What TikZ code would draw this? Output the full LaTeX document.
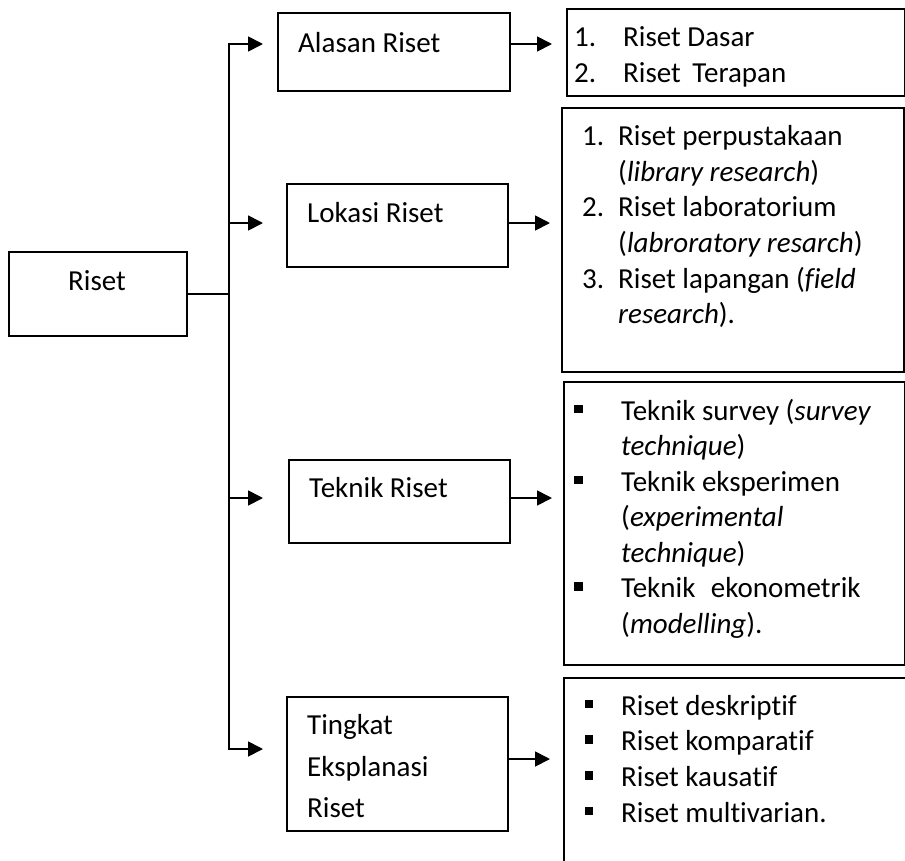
\documentclass[tikz,border=0pt]{standalone}
\usepackage{fontspec}
\setmainfont{Carlito}[Ligatures={NoCommon}]
\usetikzlibrary{arrows.meta}
\begin{document}
\begin{tikzpicture}[x=1pt,y=-1pt,
  box/.style={draw, line width=1.8pt, inner sep=0pt, anchor=north west},
  txt/.style={anchor=base west, inner sep=0pt, font=\fontsize{29}{35}\selectfont},
  link/.style={line width=1.8pt, line cap=rect},
  arr/.style={line width=1.8pt, line cap=rect, -{Triangle[length=15pt,width=15pt]}},
  bul/.style={fill, inner sep=0pt, minimum size=8.5pt, anchor=center}]
\useasboundingbox (0,0) rectangle (905,860);

% boxes
\node[box, minimum width=178pt, minimum height=84pt] (riset) at (8,251) {};
\node[box, minimum width=232pt, minimum height=78pt] (alasan) at (277,12) {};
\node[box, minimum width=221pt, minimum height=83pt] (lokasi) at (286,183) {};
\node[box, minimum width=221pt, minimum height=83pt] (teknik) at (288,459) {};
\node[box, minimum width=221pt, minimum height=134pt] (tingkat) at (286,696) {};
\node[box, minimum width=338pt, minimum height=87pt] (l1) at (566,8) {};
\node[box, minimum width=342pt, minimum height=264pt] (l2) at (561,107) {};
\node[box, minimum width=341pt, minimum height=283pt] (l3) at (563,381) {};
\node[box, minimum width=345pt, minimum height=200pt] (l4) at (563,677) {};

% junction coordinates
\coordinate (tTop) at (229,44);
\coordinate (tLok) at (229,223);
\coordinate (tTek) at (229,498);
\coordinate (tBot) at (229,749);
\coordinate (tRis) at (229,294);
\coordinate (yTing) at (229,759);

% connectors
\draw[link] (riset.east |- tRis) -- (tRis);
\draw[arr, shorten >=14pt] (tTop) -- (alasan.west |- tTop);
\draw[arr, shorten >=23pt] (tTop) -- (tBot) -- (tingkat.west |- tBot);
\draw[arr, shorten >=23pt] (tLok) -- (lokasi.west |- tLok);
\draw[arr, shorten >=25pt] (tTek) -- (teknik.west |- tTek);

\draw[arr, shorten >=14pt] (alasan.east |- tTop) -- (l1.west |- tTop);
\draw[arr, shorten >=11pt] (lokasi.east |- tLok) -- (l2.west |- tLok);
\draw[arr, shorten >=11pt] (teknik.east |- tTek) -- (l3.west |- tTek);
\draw[arr, shorten >=13pt] (tingkat.east |- yTing) -- (l4.west |- yTing);

% left column labels
\node[txt] (tRiset) at (68,290) {Riset};
\node[txt] (tAlasan) at (298,52) {Alasan Riset};
\node[txt] (tLokasi) at (307,222) {Lokasi Riset};
\node[txt] (tTeknik) at (309,497) {Teknik Riset};
\node[txt] (tTing1) at (307,734) {Tingkat};
\node[txt] (tTing2) at (307,776) {Eksplanasi};
\node[txt] (tTing3) at (307,817) {Riset};

% list 1
\node[txt] (a1n) at (574,46) {1.};
\node[txt] (a1t) at (623,46) {Riset Dasar};
\node[txt] (a2n) at (574,82) {2.};
\node[txt] (a2t) at (623,82) {Riset\hspace{5pt} Terapan};

% list 2
\node[txt] (b1n) at (582,145) {1.};
\node[txt] (b1t) at (618,145) {Riset perpustakaan};
\node[txt] (b1u) at (618,181) {(\textit{library research})};
\node[txt] (b2n) at (582,216) {2.};
\node[txt] (b2t) at (618,216) {Riset laboratorium};
\node[txt] (b2u) at (618,252) {(\textit{labroratory resarch})};
\node[txt] (b3n) at (582,288) {3.};
\node[txt] (b3t) at (618,288) {Riset lapangan (\textit{field}};
\node[txt] (b3u) at (618,323) {\textit{research}).};

% list 3
\node[bul] (c1b) at (578.5,409) {};
\node[txt] (c1t) at (621,420) {Teknik survey (\textit{survey}};
\node[txt] (c1u) at (621,455.5) {\textit{technique})};
\node[bul] (c2b) at (578.5,480) {};
\node[txt] (c2t) at (621,491) {Teknik eksperimen};
\node[txt] (c2u) at (621,526.5) {(\textit{experimental}};
\node[txt] (c2v) at (621,562) {\textit{technique})};
\node[bul] (c3b) at (578.5,586.5) {};
\node[txt] (c3t) at (621,597.5) {Teknik\hspace{9pt} ekonometrik};
\node[txt] (c3u) at (621,633) {(\textit{modelling}).};

% list 4
\node[bul] (d1b) at (589,704) {};
\node[txt] (d1t) at (621,715) {Riset deskriptif};
\node[bul] (d2b) at (589,739.7) {};
\node[txt] (d2t) at (621,750.7) {Riset komparatif};
\node[bul] (d3b) at (589,775.4) {};
\node[txt] (d3t) at (621,786.4) {Riset kausatif};
\node[bul] (d4b) at (589,811) {};
\node[txt] (d4t) at (621,822) {Riset multivarian.};
\end{tikzpicture}
\end{document}
